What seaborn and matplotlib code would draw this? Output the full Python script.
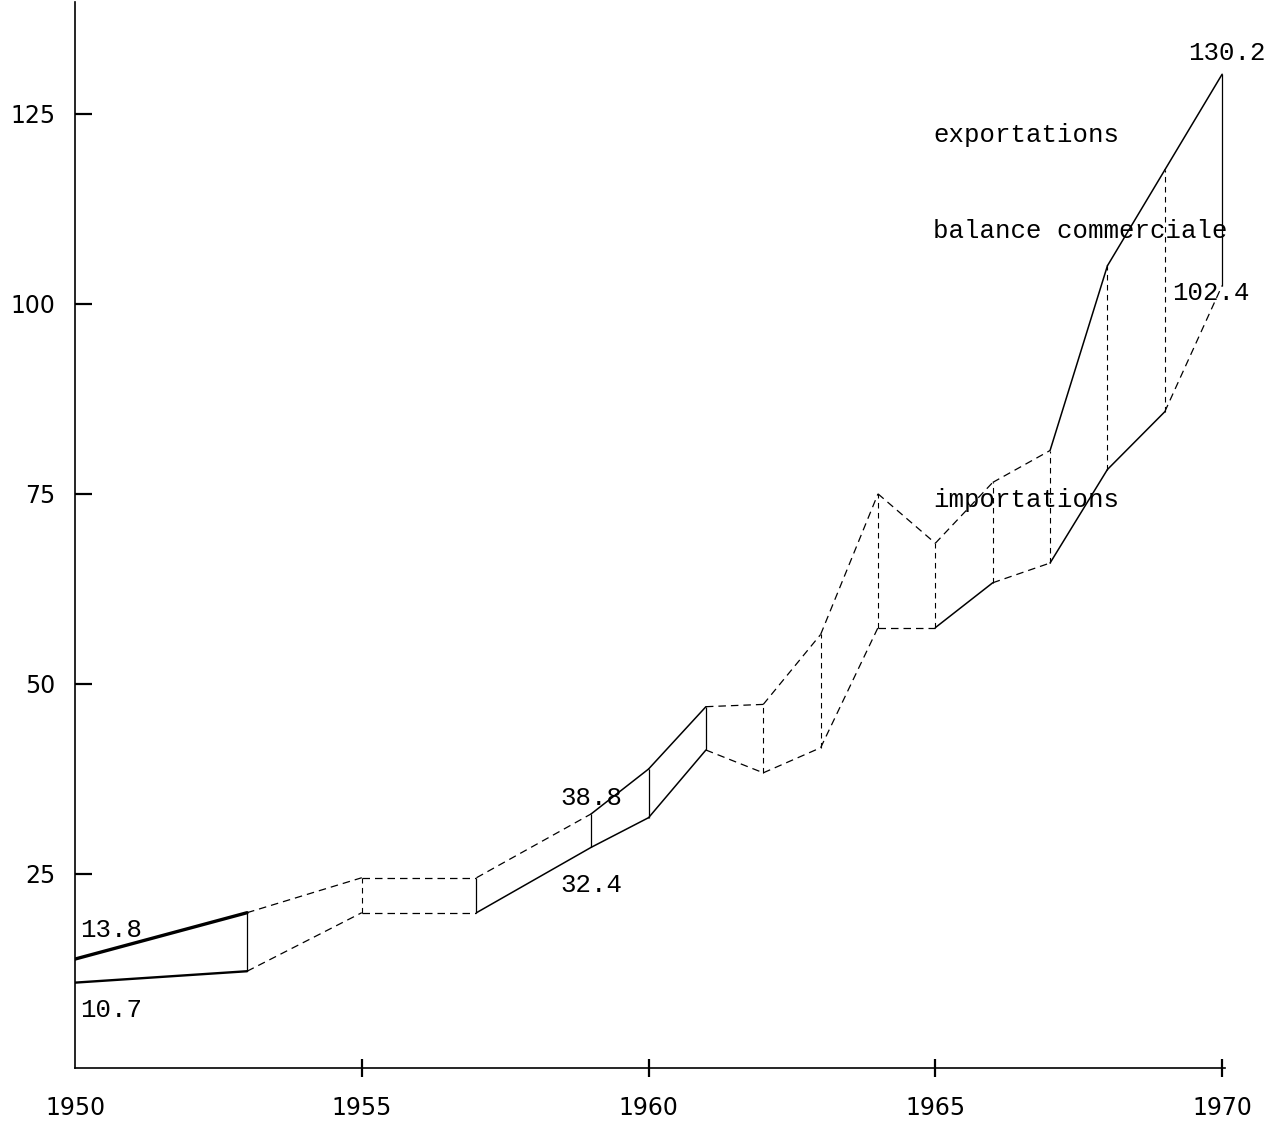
import matplotlib
matplotlib.use("Agg")
import matplotlib.pyplot as plt
import seaborn as sns
import pandas as pd

# ---- data ----
years = [1950, 1953, 1955, 1957, 1959, 1960, 1961, 1962, 1963, 1964,
         1965, 1966, 1967, 1968, 1969, 1970]
exportations = [13.8, 19.9, 24.5, 24.5, 32.9, 38.8, 47.0, 47.3, 56.5, 75.0,
                68.5, 76.5, 80.7, 105.0, 117.6, 130.2]
importations = [10.7, 12.2, 19.9, 19.9, 28.5, 32.4, 41.3, 38.3, 41.6, 57.4,
                 57.4, 63.3, 65.9, 78.2, 85.8, 102.4]

x_ticks = [1950, 1955, 1960, 1965, 1970]
y_ticks = [25, 50, 75, 100, 125]

lbl_exp = "exportations"
lbl_bal = "balance commerciale"
lbl_imp = "importations"

# segment trait styles (True = solid, False = dashed)
exp_solid = [True, False, False, False, True, True, False, False, False,
             False, False, False, True, True, True]
imp_solid = [True, False, False, True, True, True, False, False, False,
             False, True, False, True, True, False]
bal_solid = [True, False, True, True, True, True, False, False, False,
             False, False, False, False, False, True]

sns.set_style("ticks")
plt.rcParams['font.family'] = ['DejaVu Sans']
mono = ['Liberation Mono', 'DejaVu Sans Mono']

fig = plt.figure(figsize=(12.8, 11.25), dpi=100)
ax = fig.add_axes([75 / 1280, 1 - 1068 / 1125, 1150 / 1280, 1066 / 1125])


def draw(series, solid, first_lw):
    for i in range(len(years) - 1):
        seg = pd.DataFrame({'x': years[i:i + 2], 'y': series[i:i + 2]})
        if solid[i]:
            ls, lw = '-', (first_lw if i == 0 else 1.1)
        else:
            ls, lw = (0, (6, 4)), 0.9
        sns.lineplot(data=seg, x='x', y='y', ax=ax, color='black',
                     linewidth=lw, linestyle=ls, estimator=None,
                     legend=False)


draw(exportations, exp_solid, 2.4)
draw(importations, imp_solid, 1.7)

# balance commerciale: vertical connectors
for yr, e, m, s in zip(years[1:], exportations[1:], importations[1:], bal_solid):
    ax.vlines(yr, m, e, colors='black', linewidth=0.9 if s else 0.8,
              linestyles='-' if s else (0, (5, 4)))

ax.set_xlim(1950, 1970.05)
ax.set_ylim(-0.53, 139.7)
ax.set_xticks(x_ticks)
ax.set_xticklabels([str(v) for v in x_ticks])
ax.set_yticks(y_ticks)
ax.set_yticklabels([str(v) for v in y_ticks])
ax.set_xlabel('')
ax.set_ylabel('')
for side in ['top', 'right']:
    ax.spines[side].set_visible(False)
for side in ['left', 'bottom']:
    ax.spines[side].set_linewidth(1.2)
    ax.spines[side].set_color('black')
ax.tick_params(axis='y', direction='in', length=12, width=1.6, pad=14,
               labelsize=17, colors='black')
ax.tick_params(axis='x', direction='inout', length=13, width=1.6, pad=14,
               labelsize=17, colors='black')
# no tick mark at the origin year
ax.xaxis.get_major_ticks()[0].tick1line.set_visible(False)

tkw = dict(fontsize=18.5, family=mono, color='black', va='center')
ax.text(1950.09, 17.6, f"{exportations[0]}", ha='left', **tkw)
ax.text(1950.09, 7.1, f"{importations[0]}", ha='left', **tkw)
ax.text(1958.46, 35.0, f"{exportations[5]}", ha='left', **tkw)
ax.text(1958.46, 23.6, f"{importations[5]}", ha='left', **tkw)
ax.text(1970.75, 133.0, f"{exportations[-1]}", ha='right', clip_on=False, **tkw)
ax.text(1969.13, 101.4, f"{importations[-1]}", ha='left', clip_on=False, **tkw)
ax.text(1964.96, 122.2, lbl_exp, ha='left', **tkw)
ax.text(1964.96, 109.6, lbl_bal, ha='left', clip_on=False, **tkw)
ax.text(1964.96, 74.2, lbl_imp, ha='left', **tkw)

fig.savefig('out.png', dpi=100)
